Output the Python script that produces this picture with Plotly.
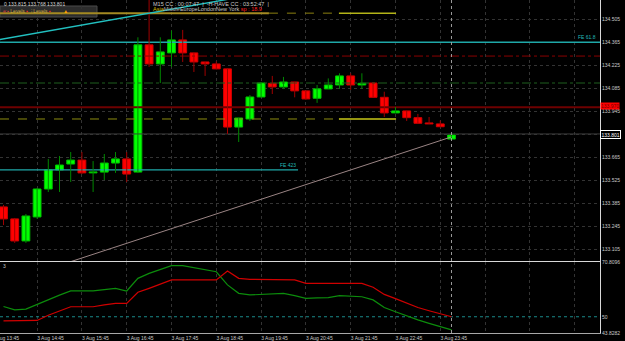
import plotly.graph_objects as go

# ---------------- data ----------------
bar_idx = list(range(41))
opens = [133.363, 133.290, 133.156, 133.302, 133.472, 133.588, 133.624, 133.648, 133.570, 133.575,
         133.630, 133.655, 133.575, 134.349, 134.233, 134.300, 134.379, 134.300, 134.245, 134.233,
         134.203, 133.849, 133.898, 134.032, 134.115, 134.093, 134.123, 134.069, 134.024, 134.081,
         134.105, 134.160, 134.105, 134.117, 134.030, 133.935, 133.947, 133.906, 133.874, 133.868,
         133.776]
highs = [133.375, 133.296, 133.320, 133.478, 133.655, 133.673, 133.697, 133.697, 133.642, 133.685,
         133.697, 133.697, 134.395, 134.660, 134.395, 134.436, 134.440, 134.300, 134.245, 134.248,
         134.205, 133.904, 134.044, 134.123, 134.160, 134.154, 134.123, 134.069, 134.105, 134.145,
         134.176, 134.176, 134.176, 134.120, 134.064, 133.971, 133.947, 133.929, 133.910, 133.888,
         133.807]
lows = [133.253, 133.144, 133.144, 133.290, 133.454, 133.454, 133.515, 133.563, 133.454, 133.527,
        133.570, 133.515, 133.570, 134.215, 134.117, 134.215, 134.245, 134.184, 134.160, 134.200,
        133.807, 133.758, 133.886, 134.032, 134.050, 134.081, 134.030, 134.015, 133.996, 134.081,
        134.081, 134.075, 134.081, 134.030, 133.910, 133.935, 133.886, 133.868, 133.868, 133.849,
        133.776]
closes = [133.290, 133.156, 133.308, 133.472, 133.588, 133.618, 133.648, 133.570, 133.575, 133.630,
          133.655, 133.563, 134.349, 134.233, 134.306, 134.379, 134.300, 134.245, 134.233, 134.203,
          133.849, 133.904, 134.032, 134.117, 134.093, 134.123, 134.069, 134.020, 134.081, 134.105,
          134.160, 134.105, 134.115, 134.030, 133.935, 133.947, 133.906, 133.872, 133.868, 133.851,
          133.801]

osc_green = [53.9, 52.6, 52.9, 54.7, 56.7, 58.2, 59.8, 59.8, 59.8, 60.3,
             60.8, 59.8, 64.6, 66.5, 68.0, 69.4, 69.4, 68.7, 67.8, 67.1,
             62.1, 58.9, 58.3, 58.5, 58.6, 58.9, 58.0, 57.0, 57.2, 57.3,
             58.0, 57.8, 57.6, 56.4, 53.5, 51.9, 50.3, 48.8, 47.5, 46.2,
             45.0]
osc_red = [48.4, 48.4, 48.4, 48.6, 50.6, 52.2, 53.8, 53.8, 53.8, 54.5,
           55.1, 55.1, 59.3, 60.8, 62.3, 64.0, 64.0, 64.0, 64.0, 64.0,
           67.4, 64.6, 64.2, 64.2, 64.1, 64.0, 64.0, 62.7, 62.7, 62.7,
           62.7, 62.7, 62.7, 61.2, 58.5, 56.9, 55.1, 53.5, 52.3, 51.2,
           50.0]

time_label_idx = [-1, 3, 7, 11, 15, 19, 23, 27, 31, 35, 39]
time_labels = ["3 Aug 13:45", "3 Aug 14:45", "3 Aug 15:45", "3 Aug 16:45", "3 Aug 17:45",
               "3 Aug 18:45", "3 Aug 19:45", "3 Aug 20:45", "3 Aug 21:45", "3 Aug 22:45",
               "3 Aug 23:45"]
price_ticks = [134.505, 134.365, 134.225, 134.085, 133.945, 133.805, 133.665, 133.525,
               133.385, 133.245, 133.105]
osc_ticks = [70.8096, 50, 43.8282]

# chart objects (levels / trend lines)
fe618_price = 134.365
fe423_price = 133.588
fe423_end_idx = 26.3
red_dashdot_price = 134.281
green_dashdot_price = 134.117
alert_price = 133.970
bid_price = 133.807
last_price = 133.801
sess_top_price = 134.542
sess_bot_price = 133.898
sess_gold_end_idx = 23.7
sess_solid_start_idx = 29.95
sess_solid_end_idx = 35.05
cyan_trend_idx = [-1.0, 22.0]
cyan_trend_price = [134.373, 134.650]
pink_trend_idx = [6.0, 40.0]
pink_trend_price = [133.030, 133.789]
osc_level = 50

# ---------------- layout geometry ----------------
W, H = 625, 341
X0, X1 = -0.3125, 53.26
PLOT_H = 333.0
MIN_BODY = 0.006
BODY_W = 0.7


def py(px):
    return 1 - px / PLOT_H


FONT = "Liberation Sans"
TXT = "#c8c8c8"
GRID = "#333333"

fig = go.Figure()


def hline(x0, x1, y, color, width=1, dash="solid", yaxis="y", xaxis="x"):
    fig.add_trace(go.Scatter(x=[x0, x1], y=[y, y], mode="lines", xaxis=xaxis, yaxis=yaxis,
                             line=dict(color=color, width=width, dash=dash),
                             hoverinfo="skip", showlegend=False))


hline(X0, X1, bid_price, "#3c3c3c", 1)
hline(X0, X1, red_dashdot_price, "#8a0000", 1, "dashdot")
hline(X0, X1, green_dashdot_price, "#1f5f1f", 1, "dashdot")
hline(X0, X1, alert_price, "#6e0000", 2)
hline(X0, X1, fe618_price, "#1fa8a8", 1.3)
hline(X0, fe423_end_idx, fe423_price, "#1fa8a8", 1.3)
hline(X0, sess_solid_start_idx, sess_bot_price, "#8c8c10", 1, "dash")
hline(sess_solid_start_idx, sess_solid_end_idx, sess_bot_price, "#c8c818", 1.5)
hline(X0, sess_gold_end_idx, sess_top_price, "#a48a22", 2)
hline(sess_gold_end_idx, sess_solid_start_idx, sess_top_price, "#8c8010", 1, "dash")
hline(sess_solid_start_idx, sess_solid_end_idx, sess_top_price, "#b4b418", 1.5)

# candles: wicks then bodies
for up, wick_col, fill_col, edge_col in [(True, "#008800", "#00ff00", "#00c000"),
                                          (False, "#a00000", "#ff0000", "#d00000")]:
    sel = [i for i in bar_idx if (closes[i] >= opens[i]) == up]
    wx, wy = [], []
    for i in sel:
        wx += [i, i, None]
        wy += [lows[i], highs[i], None]
    fig.add_trace(go.Scatter(x=wx, y=wy, mode="lines", line=dict(color=wick_col, width=1),
                             hoverinfo="skip", showlegend=False, xaxis="x", yaxis="y"))
    base = [min(opens[i], closes[i]) for i in sel]
    height = [max(abs(closes[i] - opens[i]), MIN_BODY) for i in sel]
    fig.add_trace(go.Bar(x=sel, y=height, base=base, width=BODY_W,
                         marker=dict(color=fill_col, line=dict(color=edge_col, width=1)),
                         hoverinfo="skip", showlegend=False, xaxis="x", yaxis="y"))

fig.add_trace(go.Scatter(x=cyan_trend_idx, y=cyan_trend_price, mode="lines",
                         line=dict(color="#22c0c0", width=1.4), hoverinfo="skip", showlegend=False))
fig.add_trace(go.Scatter(x=pink_trend_idx, y=pink_trend_price, mode="lines",
                         line=dict(color="#9a8484", width=1), hoverinfo="skip", showlegend=False))

# oscillator panel
hline(X0, X1, osc_level, "#1a8a8a", 1, "dot", yaxis="y2", xaxis="x2")
fig.add_trace(go.Scatter(x=bar_idx, y=osc_green, mode="lines", xaxis="x2", yaxis="y2",
                         line=dict(color="#0c8c0c", width=1.2), hoverinfo="skip", showlegend=False))
fig.add_trace(go.Scatter(x=bar_idx, y=osc_red, mode="lines", xaxis="x2", yaxis="y2",
                         line=dict(color="#d00000", width=1.2), hoverinfo="skip", showlegend=False))

grid_idx = [i for i in range(-1, 54, 4)]
minor = dict(tickvals=grid_idx, showgrid=True, gridcolor=GRID, griddash="dot", gridwidth=1, ticks="")

fig.update_layout(
    width=W, height=H,
    margin=dict(l=0, r=25, t=0, b=8, autoexpand=False),
    paper_bgcolor="#000000", plot_bgcolor="#000000",
    font=dict(family=FONT, size=5, color=TXT),
    barmode="overlay",
    xaxis=dict(domain=[0, 1], range=[X0, X1], anchor="y", showticklabels=False, showgrid=False,
               zeroline=False, showline=True, linecolor="#d8d8d8", linewidth=1,
               minor=minor, fixedrange=True, automargin=False),
    yaxis=dict(domain=[1 - 261 / PLOT_H, 1], range=[133.034, 134.622], side="right", anchor="x",
               tickvals=price_ticks, ticktext=["%.3f" % v for v in price_ticks],
               tickfont=dict(size=5, color=TXT), showgrid=True, gridcolor=GRID, griddash="dot",
               zeroline=False, showline=True, linecolor="#d8d8d8", linewidth=1, ticks="",
               automargin=False),
    xaxis2=dict(domain=[0, 1], range=[X0, X1], anchor="y2", matches="x",
                tickvals=[v + 1.2 for v in time_label_idx], ticktext=time_labels,
                tickfont=dict(size=5, color=TXT), showgrid=False, zeroline=False,
                ticklabeloverflow="allow", automargin=False,
                showline=True, linecolor="#a8a8a8", linewidth=1, ticks="", minor=minor),
    yaxis2=dict(domain=[0, (PLOT_H - 262) / PLOT_H], range=[43.8282, 70.8096], side="right",
                anchor="x2", tickvals=osc_ticks, ticktext=["70.8096", "50", "43.8282"],
                tickfont=dict(size=5, color=TXT), showgrid=False, zeroline=False, automargin=False,
                showline=True, linecolor="#d8d8d8", linewidth=1, ticks=""),
)

# current bar vertical dotted line
fig.add_shape(type="line", xref="x", yref="paper", x0=bar_idx[-1], x1=bar_idx[-1], y0=0, y1=1,
              line=dict(color="#9a9a9a", width=1, dash="dot"))

# legend/tool panel top-left
fig.add_shape(type="rect", xref="paper", yref="paper", x0=0, x1=97 / 600, y0=py(17), y1=py(6),
              fillcolor="#2c2c2c", line=dict(color="#4a4a4a", width=1), layer="below")

ann = []
ann.append(dict(x=0.003, y=py(3.5), xref="paper", yref="paper", xanchor="left", yanchor="middle",
                text="0 133.815 133.768 133.801", showarrow=False, font=dict(size=5, color="#d8d8d8")))
ann.append(dict(x=0.002, y=py(11.5), xref="paper", yref="paper", xanchor="left", yanchor="middle",
                text="<span style='color:#d04040'>e:▪</span> <span style='color:#c8a848'>Levels</span> "
                     "<span style='color:#ff2020'>▪</span>  <span style='color:#c8a848'>⁝ Levels</span> "
                     "<span style='color:#ff2020'>▪</span>         <span style='color:#ffa000'>▲</span>",
                showarrow=False, font=dict(size=5, color="#c8a848")))
ann.append(dict(x=151 / 600, y=py(4), xref="paper", yref="paper", xanchor="left", yanchor="middle",
                text="M15 CC : 00:07:47  |  -H-HAVE CC : 03:52:47  |", showarrow=False,
                font=dict(size=5.5, color="#c8c8c8")))
ann.append(dict(x=151 / 600, y=py(9.5), xref="paper", yref="paper", xanchor="left", yanchor="middle",
                text="<span style='color:#d8b800'>Asia</span><span style='color:#a8a8a8'>Middle</span>"
                     "<span style='color:#c8c8c8'>EuropeLondonNew York </span>"
                     "<span style='color:#ff2020'>sp : 18.9</span>",
                showarrow=False, font=dict(size=5.5, color="#c8c8c8")))
ann.append(dict(x=0.997, y=fe618_price, xref="paper", yref="y", xanchor="right", yanchor="bottom",
                text="FE 61.8", showarrow=False, font=dict(size=5, color="#22b8b8")))
ann.append(dict(x=fe423_end_idx, y=fe423_price, xref="x", yref="y", xanchor="right", yanchor="bottom",
                text="FE 423", showarrow=False, font=dict(size=5, color="#22b8b8")))
ann.append(dict(x=1.0, y=alert_price, xref="paper", yref="y", xanchor="left", yanchor="bottom",
                yshift=-3, text="133.970", showarrow=False, bgcolor="#ff0000", borderpad=0,
                font=dict(size=5, color="#700000")))
ann.append(dict(x=1.0, y=last_price, xref="paper", yref="y", xanchor="left", yanchor="middle",
                text="133.801", showarrow=False, bgcolor="#000000", bordercolor="#ffffff",
                borderwidth=1, borderpad=0.5, font=dict(size=5, color="#ffffff")))
ann.append(dict(x=0.002, y=py(266), xref="paper", yref="paper", xanchor="left", yanchor="middle",
                text="3", showarrow=False, font=dict(size=5, color="#c8c8c8")))
fig.update_layout(annotations=ann)

fig.write_html("out.html")
